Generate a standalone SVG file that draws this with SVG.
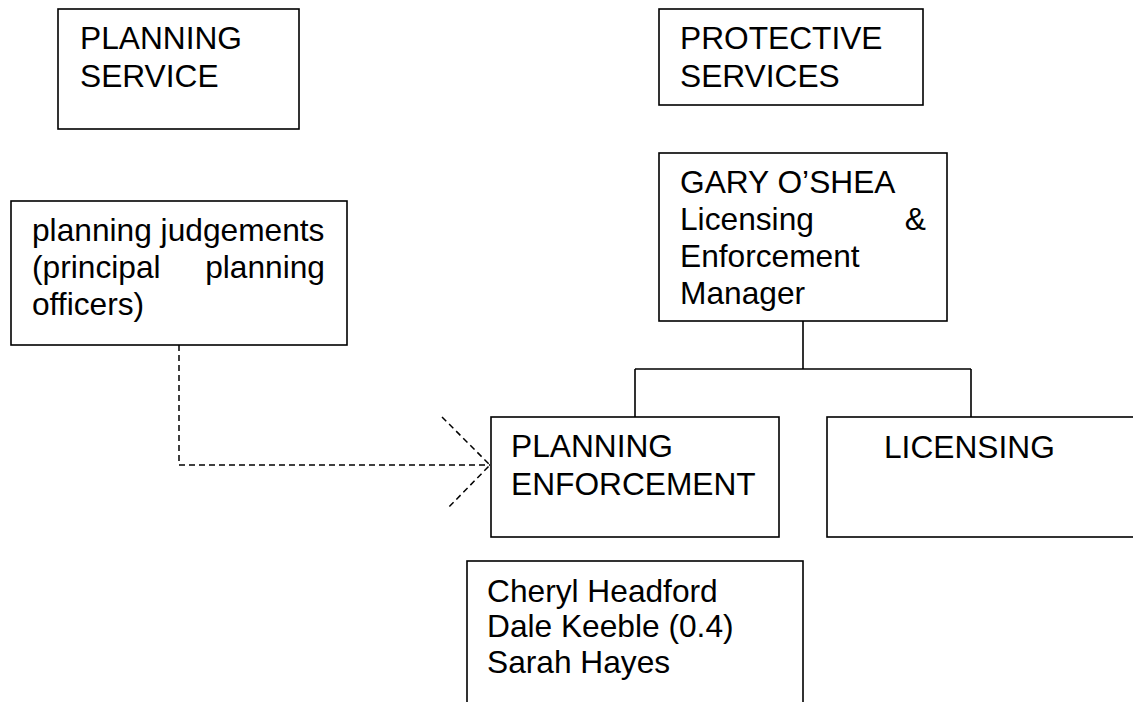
<svg xmlns="http://www.w3.org/2000/svg" width="1133" height="702" viewBox="0 0 1133 702">
<style>
.box{fill:#fff;stroke:#000;stroke-width:1.6}
.t{font-family:"Liberation Sans",Arial,sans-serif;font-size:31.7px;fill:#000}
.ln{fill:none;stroke:#000;stroke-width:1.6}
.dash{fill:none;stroke:#000;stroke-width:1.5;stroke-dasharray:6 4}
</style>
<rect width="1133" height="702" fill="#fff"/>
<g id="connectors">
<path class="ln" d="M803 321 V369 M635 369 H971 M635 369 V417 M971 369 V417"/>
<path class="dash" d="M179 345 V465 H490"/>
<path class="dash" d="M442 417 L490 465 L447 509"/>
</g>
<g id="planning-service">
<rect class="box" x="58" y="9" width="241" height="120"/>
<text class="t" x="80" y="49">PLANNING</text>
<text class="t" x="80" y="87">SERVICE</text>
</g>
<g id="protective-services">
<rect class="box" x="659" y="9" width="264" height="96"/>
<text class="t" x="680" y="49">PROTECTIVE</text>
<text class="t" x="680" y="87">SERVICES</text>
</g>
<g id="gary">
<rect class="box" x="659" y="153" width="288" height="168"/>
<text class="t" x="680" y="193">GARY O’SHEA</text>
<text class="t" x="680" y="230">Licensing</text>
<text class="t" x="926" y="230" text-anchor="end">&amp;</text>
<text class="t" x="680" y="267">Enforcement</text>
<text class="t" x="680" y="304">Manager</text>
</g>
<g id="planning-judgements">
<rect class="box" x="11" y="201" width="336" height="144"/>
<text class="t" x="32" y="241">planning judgements</text>
<text class="t" x="32" y="278">(principal</text>
<text class="t" x="325" y="278" text-anchor="end">planning</text>
<text class="t" x="32" y="315">officers)</text>
</g>
<g id="planning-enforcement">
<rect class="box" x="491" y="417" width="288" height="120"/>
<text class="t" x="511" y="457">PLANNING</text>
<text class="t" x="511" y="495">ENFORCEMENT</text>
</g>
<g id="licensing">
<rect class="box" x="827" y="417" width="320" height="120"/>
<text class="t" x="884" y="458">LICENSING</text>
</g>
<g id="staff">
<rect class="box" x="467" y="561" width="336" height="160"/>
<text class="t" x="487" y="602">Cheryl Headford</text>
<text class="t" x="487" y="637">Dale Keeble (0.4)</text>
<text class="t" x="487" y="673">Sarah Hayes</text>
</g>
</svg>
